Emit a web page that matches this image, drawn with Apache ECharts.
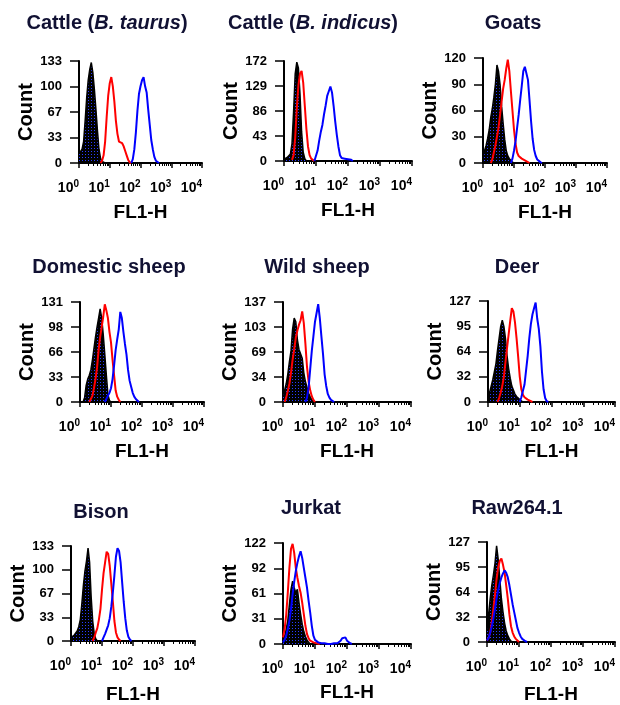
<!DOCTYPE html>
<html><head><meta charset="utf-8">
<script src="https://cdn.jsdelivr.net/npm/echarts@6/dist/echarts.min.js"></script>
<style>html,body{margin:0;padding:0;background:#fff}#c{width:620px;height:705px}</style>
</head><body><div id="c"></div>
<script>
// ---------- DATA ----------
const STEP = 0.05;                 // channel spacing in decades
const xExponents = [0, 1, 2, 3, 4]; // x tick labels 10^n

const titles = [
  '{b|Cattle (}{bi|B. taurus}{b|)}',
  '{b|Cattle (}{bi|B. indicus}{b|)}',
  'Goats', 'Domestic sheep', 'Wild sheep', 'Deer', 'Bison', 'Jurkat', 'Raw264.1'
];

const yTicks = [
  [0, 33, 67, 100, 133],
  [0, 43, 86, 129, 172],
  [0, 30, 60, 90, 120],
  [0, 33, 66, 98, 131],
  [0, 34, 69, 103, 137],
  [0, 32, 64, 95, 127],
  [0, 33, 67, 100, 133],
  [0, 31, 61, 92, 122],
  [0, 32, 64, 95, 127]
];
const yMax = [133, 172, 120, 131, 137, 127, 133, 122, 127];

// each histogram: start decade + counts every STEP decades
const blackStart = [0, 0, 0, 0.10, 0, 0, 0, 0, 0];
const blackCounts = [
  [12,14,18,28,55,85,108,122,131,118,96,70,42,18,6,2,1,0],
  [3,5,6,8,12,30,85,150,170,160,115,50,15,4,0],
  [8,14,20,28,38,52,62,75,90,112,105,90,65,45,27,14,8,5,3,1,0],
  [0,6,22,30,35,42,55,70,85,98,110,122,110,88,62,35,10,2,0],
  [10,16,25,38,55,70,100,115,110,85,72,74,60,40,28,20,12,7,3,0],
  [8,12,20,28,38,48,65,80,95,103,95,80,58,42,30,20,15,10,7,5,3,2,0],
  [5,6,8,10,14,20,30,52,78,98,112,130,110,62,28,10,3,0],
  [4,9,18,28,48,66,76,68,62,66,50,36,24,15,9,5,2,0],
  [15,35,55,72,85,100,122,105,80,55,38,24,14,8,4,1,0]
];
const redStart = [0.70, 0.25, 0.25, 0.30, 0.05, 0.30, 0.70, 0, 0];
const redCounts = [
  [0,3,10,28,60,88,104,112,100,80,55,38,28,30,26,22,16,10,4,1,0],
  [2,10,40,90,130,150,155,135,95,55,25,10,4,1,0],
  [0,4,12,20,30,40,55,70,85,95,108,118,105,82,60,38,22,12,8,6,5,4,3,2,1,0],
  [0,4,8,18,30,45,68,85,98,112,128,120,110,92,78,55,35,15,7,3,0],
  [0,6,15,25,40,58,72,88,98,106,112,124,108,80,48,28,16,8,3,0],
  [0,5,12,20,32,50,68,85,102,118,114,100,80,57,32,16,9,6,4,3,2,1,0],
  [0,5,12,18,30,45,72,95,110,125,122,105,80,55,28,12,5,2,0],
  [8,18,35,62,92,115,121,110,92,80,70,62,50,36,22,12,7,4,3,2,2,1,1,0],
  [2,5,12,25,42,60,80,95,103,106,98,88,72,55,35,20,12,7,4,2,0]
];
const blueStart = [1.70, 0.95, 0.90, 0.80, 0.70, 1.00, 1.00, 0, 0];
const blueCounts = [
  [0,5,18,40,68,90,100,108,112,100,92,70,50,30,18,8,3,1,0],
  [0,3,18,35,50,62,80,95,112,120,128,118,95,68,45,25,10,5,4,4,3,3,2,2,0],
  [0,5,14,25,40,55,72,88,105,110,108,95,72,48,28,15,8,4,2,1,0],
  [0,4,8,12,18,30,48,68,82,95,118,110,92,76,62,42,28,20,12,7,4,2,0],
  [0,6,20,45,70,90,110,122,134,115,90,66,38,22,11,6,3,1,0],
  [0,6,14,22,40,58,80,98,110,118,125,105,92,70,38,16,5,1,0],
  [0,5,10,16,22,32,48,68,92,118,130,126,110,82,55,32,15,6,2,0],
  [2,5,10,18,28,42,60,75,88,98,106,112,104,92,80,68,52,38,22,10,5,3,2,2,1,1,1,1,0,0,0,1,1,0,1,2,4,7,5,8,4,2,1,0],
  [2,5,12,20,30,42,55,66,75,82,87,91,88,82,72,60,48,38,28,18,12,7,4,2,1,0]
];

// ---------- LAYOUT ----------
const layout = [
  {t:[107,23], g:[79,61,123,102], xg:40, yg:43},
  {t:[313,23], g:[284,61,128,100], xg:40, yg:43},
  {t:[513,23], g:[483,58,124,105], xg:40, yg:42},
  {t:[109,267], g:[80,302,124,100], xg:40, yg:43},
  {t:[317,267], g:[283,302,128,100], xg:40, yg:41},
  {t:[517,267], g:[488,301,127,101], xg:40, yg:43},
  {t:[101,512], g:[71,546,124,100], xg:44, yg:38},
  {t:[311,508], g:[283,543,128,101], xg:39, yg:43},
  {t:[517,508], g:[487,542,128,102], xg:43, yg:43}
];

const FONT = '"Liberation Sans", Arial, Helvetica, sans-serif';

// black fill speckled with blue dots, as in the scan
const pat = document.createElement('canvas');
pat.width = 3; pat.height = 3;
const pc = pat.getContext('2d');
pc.fillStyle = '#000'; pc.fillRect(0, 0, 3, 3);
pc.fillStyle = '#2a3cff'; pc.fillRect(1, 1, 1, 1);

function toPoints(start, counts) {
  return counts.map((c, i) => [Math.pow(10, start + i * STEP), c]);
}

const grid = [], xAxis = [], yAxis = [], series = [], graphic = [];
layout.forEach((L, i) => {
  grid.push({left: L.g[0], top: L.g[1], width: L.g[2], height: L.g[3], containLabel: false});
  xAxis.push({
    type: 'log', logBase: 10, min: 1, max: 10000, gridIndex: i,
    name: 'FL1-H', nameLocation: 'middle', nameGap: L.xg,
    nameTextStyle: {fontFamily: FONT, fontWeight: 'bold', fontSize: 19, color: '#000'},
    axisLine: {show: true, lineStyle: {color: '#000', width: 2}},
    axisTick: {show: true, length: 5, lineStyle: {color: '#000', width: 1.5}},
    minorTick: {show: true, splitNumber: 9, length: 3, lineStyle: {color: '#000', width: 1}},
    splitLine: {show: false}, minorSplitLine: {show: false},
    axisLabel: {
      margin: 16, align: 'right', color: '#000',
      formatter: v => {
        const e = Math.round(Math.log10(v));
        return xExponents.indexOf(e) >= 0 ? '{n|10}{s|' + e + '}' : '';
      },
      rich: {
        n: {fontFamily: FONT, fontWeight: 'bold', fontSize: 14, lineHeight: 14, padding: [5,0,0,0], color: '#000'},
        s: {fontFamily: FONT, fontWeight: 'bold', fontSize: 10, lineHeight: 10, verticalAlign: 'top', color: '#000'}
      }
    }
  });
  const ticks = yTicks[i];
  const step = yMax[i] / 4;
  yAxis.push({
    type: 'value', min: 0, max: yMax[i], interval: step, gridIndex: i,
    name: 'Count', nameLocation: 'middle', nameGap: L.yg, nameRotate: 90,
    nameTextStyle: {fontFamily: FONT, fontWeight: 'bold', fontSize: 20, color: '#000'},
    axisLine: {show: true, lineStyle: {color: '#000', width: 2}},
    axisTick: {show: true, length: 9, lineStyle: {color: '#000', width: 1.5}},
    splitLine: {show: false},
    axisLabel: {
      margin: 17, color: '#000', fontFamily: FONT, fontWeight: 'bold', fontSize: 13,
      formatter: v => String(ticks[Math.round(v / step)])
    }
  });
  series.push({
    type: 'line', xAxisIndex: i, yAxisIndex: i, showSymbol: false, smooth: false,
    data: toPoints(blackStart[i], blackCounts[i]),
    lineStyle: {color: '#000', width: 1.5},
    areaStyle: {color: {image: pat, repeat: 'repeat'}, opacity: 1},
    silent: true, z: 2
  });
  series.push({
    type: 'line', xAxisIndex: i, yAxisIndex: i, showSymbol: false, smooth: false,
    data: toPoints(redStart[i], redCounts[i]),
    lineStyle: {color: '#ff0000', width: 2}, silent: true, z: 3
  });
  series.push({
    type: 'line', xAxisIndex: i, yAxisIndex: i, showSymbol: false, smooth: false,
    data: toPoints(blueStart[i], blueCounts[i]),
    lineStyle: {color: '#0000ff', width: 2}, silent: true, z: 4
  });
  graphic.push({
    type: 'text', x: L.t[0], y: L.t[1],
    style: {
      text: titles[i], x: 0, y: 0, align: 'center', verticalAlign: 'middle',
      fill: '#111133', font: 'bold 20px ' + FONT,
      rich: {
        b: {fontFamily: FONT, fontWeight: 'bold', fontSize: 20, fill: '#111133'},
        bi: {fontFamily: FONT, fontWeight: 'bold', fontStyle: 'italic', fontSize: 20, fill: '#111133'}
      }
    }
  });
});

const chart = echarts.init(document.getElementById('c'), null, {renderer: 'canvas'});
chart.setOption({
  animation: false,
  backgroundColor: '#fff',
  grid, xAxis, yAxis, series, graphic
});
</script></body></html>
